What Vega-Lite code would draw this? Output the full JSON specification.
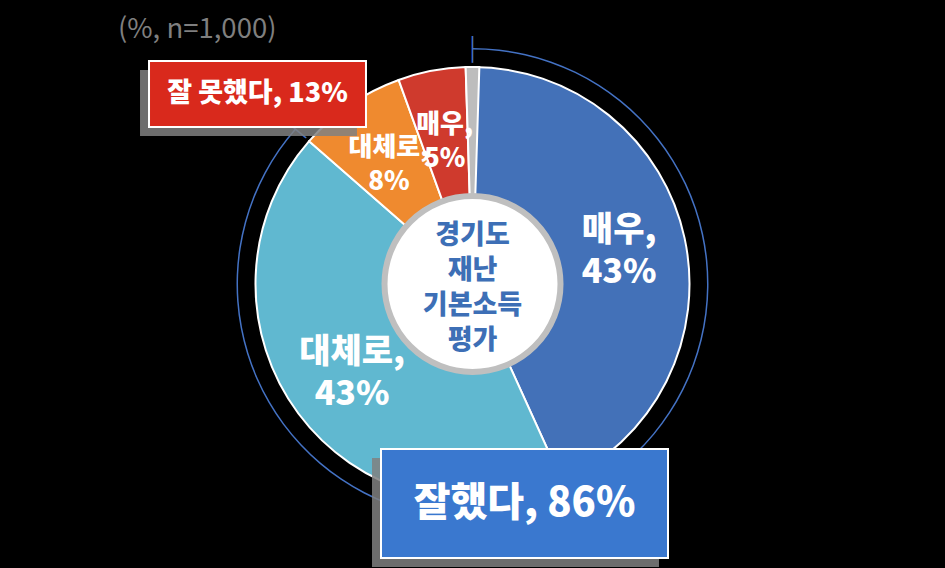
{
  "$schema": "https://vega.github.io/schema/vega-lite/v6.json",
  "width": 945,
  "height": 568,
  "autosize": {"type": "none"},
  "padding": 0,
  "background": "#000000",
  "config": {"view": {"stroke": null}, "font": "Noto Sans CJK KR"},
  "title": {
    "text": "(%, n=1,000)",
    "anchor": "start",
    "frame": "group",
    "dx": 118,
    "offset": -43,
    "fontSize": 27.5,
    "fontWeight": "normal",
    "color": "#7f7f7f",
    "font": "Noto Sans CJK KR"
  },
  "data": {
    "values": [
      {"no": 1, "group": "잘했다", "level": "매우", "value": 43},
      {"no": 2, "group": "잘했다", "level": "대체로", "value": 43},
      {"no": 3, "group": "잘 못했다", "level": "대체로", "value": 8},
      {"no": 4, "group": "잘 못했다", "level": "매우", "value": 5},
      {"no": 5, "group": "모름/무응답", "level": "", "value": 1}
    ]
  },
  "transform": [
    {"stack": "value", "groupby": [], "sort": [{"field": "no", "order": "ascending"}], "as": ["v0", "v1"]},
    {"calculate": "(datum.v0 + datum.v1) / 2", "as": "mid"},
    {"calculate": "datum.level === '' ? '' : datum.level + ',\\n' + datum.value + '%'", "as": "label"}
  ],
  "layer": [
    {
      "transform": [
        {"aggregate": [{"op": "min", "field": "v0", "as": "g0"}, {"op": "max", "field": "v1", "as": "g1"}], "groupby": ["group"]},
        {"filter": "datum.group === '잘했다'"}
      ],
      "mark": {"type": "arc", "radius": 236, "radius2": 234.5, "fill": "#4472c4"},
      "encoding": {
        "theta": {"field": "g0", "type": "quantitative"},
        "theta2": {"field": "g1"}
      }
    },
    {
      "transform": [
        {"aggregate": [{"op": "min", "field": "v0", "as": "g0"}, {"op": "max", "field": "v1", "as": "g1"}], "groupby": ["group"]},
        {"filter": "datum.group === '잘했다'"},
        {"fold": ["g0", "g1"], "as": ["edge", "pos"]}
      ],
      "mark": {"type": "text", "text": "|", "radius": 235, "fontSize": 24, "color": "#4472c4", "align": "center", "baseline": "middle"},
      "encoding": {
        "theta": {"field": "pos", "type": "quantitative", "stack": null},
        "angle": {"field": "pos", "type": "quantitative", "scale": {"domain": [0, 100], "range": [0, 360]}, "legend": null}
      }
    },
    {
      "mark": {"type": "arc", "radius": 217, "stroke": "#ffffff", "strokeWidth": 2},
      "encoding": {
        "theta": {"field": "v0", "type": "quantitative"},
        "theta2": {"field": "v1"},
        "color": {
          "field": "no",
          "type": "nominal",
          "legend": null,
          "scale": {"domain": [1, 2, 3, 4, 5], "range": ["#4371b8", "#60b8d0", "#ef8a2f", "#cf3a2d", "#bdbdbd"]}
        }
      }
    },
    {
      "transform": [{"filter": "datum.value >= 20"}],
      "mark": {"type": "text", "radius": 150, "dy": -21, "color": "#ffffff", "fontWeight": 900, "fontSize": 34, "lineHeight": 42, "lineBreak": "\n", "align": "center", "baseline": "middle"},
      "encoding": {
        "theta": {"field": "mid", "type": "quantitative", "stack": null},
        "text": {"field": "label"}
      }
    },
    {
      "transform": [{"filter": "datum.value < 20"}],
      "mark": {"type": "text", "radius": 148, "dy": -14, "color": "#ffffff", "fontWeight": 900, "fontSize": 26, "lineHeight": 34, "lineBreak": "\n", "align": "center", "baseline": "middle"},
      "encoding": {
        "theta": {"field": "mid", "type": "quantitative", "stack": null},
        "text": {"field": "label"}
      }
    },
    {
      "transform": [
        {"aggregate": [{"op": "min", "field": "v0", "as": "a0"}, {"op": "max", "field": "v1", "as": "a1"}]}
      ],
      "mark": {"type": "arc", "radius": 88, "fill": "#ffffff", "stroke": "#bfbfbf", "strokeWidth": 6},
      "encoding": {
        "theta": {"field": "a0", "type": "quantitative"},
        "theta2": {"field": "a1"}
      }
    },
    {
      "transform": [
        {"aggregate": [{"op": "count", "as": "n"}]}
      ],
      "mark": {
        "type": "text",
        "text": ["경기도", "재난", "기본소득", "평가"],
        "theta": 0,
        "radius": 0,
        "dy": -48,
        "fontSize": 27,
        "lineHeight": 35,
        "fontWeight": 900,
        "color": "#3d6fb6",
        "align": "center",
        "baseline": "middle"
      }
    },
    {
      "transform": [
        {"filter": "datum.group !== '모름/무응답'"},
        {"aggregate": [{"op": "sum", "field": "value", "as": "total"}], "groupby": ["group"]},
        {"calculate": "datum.group + ', ' + datum.total + '%'", "as": "boxlabel"}
      ],
      "encoding": {
        "x": {"field": "group", "type": "nominal", "axis": null, "scale": {"type": "point", "domain": ["잘 못했다", "잘했다"], "range": [257.5, 524.5], "padding": 0}},
        "y": {"field": "group", "type": "nominal", "axis": null, "scale": {"type": "point", "domain": ["잘 못했다", "잘했다"], "range": [94, 503.5], "padding": 0}}
      },
      "layer": [
        {
          "mark": {"type": "point", "filled": true, "size": 82369, "fill": "#808080", "opacity": 0.85, "strokeWidth": 0, "xOffset": -9, "yOffset": 9},
          "encoding": {
            "shape": {"field": "group", "type": "nominal", "legend": null, "scale": {"domain": ["잘 못했다", "잘했다"], "range": ["M-0.756,-0.23H0.756V0.23H-0.756Z", "M-1,-0.38H1V0.38H-1Z"]}}
          }
        },
        {
          "mark": {"type": "point", "filled": true, "size": 82369, "opacity": 1, "stroke": "#ffffff", "strokeWidth": 2},
          "encoding": {
            "shape": {"field": "group", "type": "nominal", "legend": null, "scale": {"domain": ["잘 못했다", "잘했다"], "range": ["M-0.756,-0.23H0.756V0.23H-0.756Z", "M-1,-0.38H1V0.38H-1Z"]}},
            "fill": {"condition": {"test": "datum.group === '잘했다'", "value": "#3a78cf"}, "value": "#d9291c"}
          }
        },
        {
          "mark": {"type": "text", "color": "#ffffff", "fontWeight": 900, "align": "center", "baseline": "middle"},
          "encoding": {
            "text": {"field": "boxlabel"},
            "size": {"condition": {"test": "datum.group === '잘했다'", "value": 40}, "value": 27}
          }
        }
      ]
    }
  ]
}
